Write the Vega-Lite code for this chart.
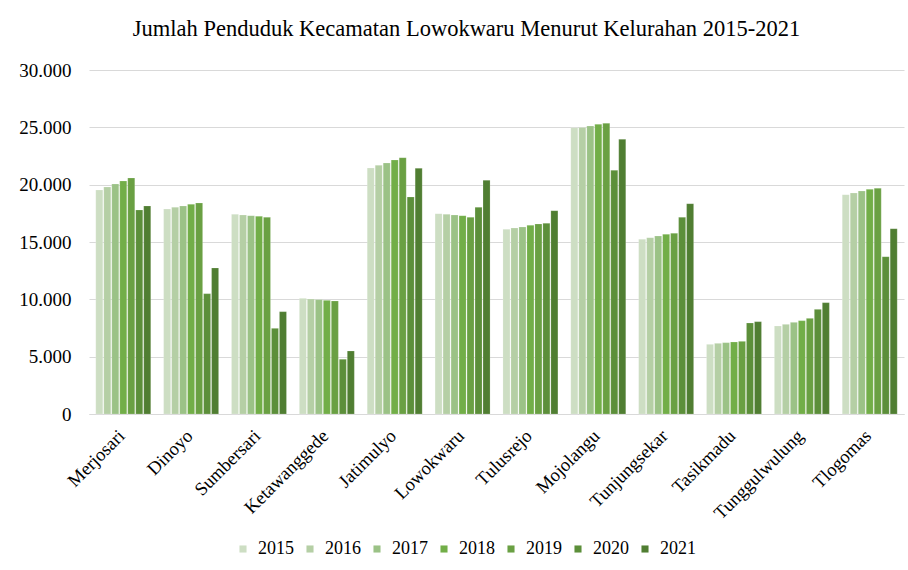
{
  "$schema": "https://vega.github.io/schema/vega-lite/v6.json",
  "width": 815,
  "height": 344,
  "autosize": {"type": "none"},
  "padding": {"left": 89, "top": 70, "right": 4, "bottom": 156},
  "background": "white",
  "title": {
    "text": "Jumlah Penduduk Kecamatan Lowokwaru Menurut Kelurahan 2015-2021",
    "font": "Liberation Serif",
    "fontSize": 22.5,
    "fontWeight": "normal",
    "color": "#000000",
    "anchor": "middle",
    "frame": "group",
    "dx": -30,
    "offset": 21
  },
  "config": {
    "font": "Liberation Serif",
    "locale": {"number": {"decimal": ",", "thousands": ".", "grouping": [3], "currency": ["Rp", ""]}},
    "view": {"stroke": null}
  },
  "data": {
    "values": [
      {"kelurahan": "Merjosari", "tahun": "2015", "jumlah": 19535},
      {"kelurahan": "Merjosari", "tahun": "2016", "jumlah": 19797},
      {"kelurahan": "Merjosari", "tahun": "2017", "jumlah": 20058},
      {"kelurahan": "Merjosari", "tahun": "2018", "jumlah": 20320},
      {"kelurahan": "Merjosari", "tahun": "2019", "jumlah": 20581},
      {"kelurahan": "Merjosari", "tahun": "2020", "jumlah": 17791},
      {"kelurahan": "Merjosari", "tahun": "2021", "jumlah": 18140},
      {"kelurahan": "Dinoyo", "tahun": "2015", "jumlah": 17878},
      {"kelurahan": "Dinoyo", "tahun": "2016", "jumlah": 18023},
      {"kelurahan": "Dinoyo", "tahun": "2017", "jumlah": 18140},
      {"kelurahan": "Dinoyo", "tahun": "2018", "jumlah": 18285},
      {"kelurahan": "Dinoyo", "tahun": "2019", "jumlah": 18401},
      {"kelurahan": "Dinoyo", "tahun": "2020", "jumlah": 10494},
      {"kelurahan": "Dinoyo", "tahun": "2021", "jumlah": 12733},
      {"kelurahan": "Sumbersari", "tahun": "2015", "jumlah": 17413},
      {"kelurahan": "Sumbersari", "tahun": "2016", "jumlah": 17355},
      {"kelurahan": "Sumbersari", "tahun": "2017", "jumlah": 17297},
      {"kelurahan": "Sumbersari", "tahun": "2018", "jumlah": 17239},
      {"kelurahan": "Sumbersari", "tahun": "2019", "jumlah": 17151},
      {"kelurahan": "Sumbersari", "tahun": "2020", "jumlah": 7471},
      {"kelurahan": "Sumbersari", "tahun": "2021", "jumlah": 8924},
      {"kelurahan": "Ketawanggede", "tahun": "2015", "jumlah": 10087},
      {"kelurahan": "Ketawanggede", "tahun": "2016", "jumlah": 10029},
      {"kelurahan": "Ketawanggede", "tahun": "2017", "jumlah": 9971},
      {"kelurahan": "Ketawanggede", "tahun": "2018", "jumlah": 9913},
      {"kelurahan": "Ketawanggede", "tahun": "2019", "jumlah": 9855},
      {"kelurahan": "Ketawanggede", "tahun": "2020", "jumlah": 4767},
      {"kelurahan": "Ketawanggede", "tahun": "2021", "jumlah": 5494},
      {"kelurahan": "Jatimulyo", "tahun": "2015", "jumlah": 21454},
      {"kelurahan": "Jatimulyo", "tahun": "2016", "jumlah": 21686},
      {"kelurahan": "Jatimulyo", "tahun": "2017", "jumlah": 21890},
      {"kelurahan": "Jatimulyo", "tahun": "2018", "jumlah": 22151},
      {"kelurahan": "Jatimulyo", "tahun": "2019", "jumlah": 22355},
      {"kelurahan": "Jatimulyo", "tahun": "2020", "jumlah": 18925},
      {"kelurahan": "Jatimulyo", "tahun": "2021", "jumlah": 21425},
      {"kelurahan": "Lowokwaru", "tahun": "2015", "jumlah": 17471},
      {"kelurahan": "Lowokwaru", "tahun": "2016", "jumlah": 17413},
      {"kelurahan": "Lowokwaru", "tahun": "2017", "jumlah": 17355},
      {"kelurahan": "Lowokwaru", "tahun": "2018", "jumlah": 17297},
      {"kelurahan": "Lowokwaru", "tahun": "2019", "jumlah": 17151},
      {"kelurahan": "Lowokwaru", "tahun": "2020", "jumlah": 18023},
      {"kelurahan": "Lowokwaru", "tahun": "2021", "jumlah": 20378},
      {"kelurahan": "Tulusrejo", "tahun": "2015", "jumlah": 16105},
      {"kelurahan": "Tulusrejo", "tahun": "2016", "jumlah": 16221},
      {"kelurahan": "Tulusrejo", "tahun": "2017", "jumlah": 16308},
      {"kelurahan": "Tulusrejo", "tahun": "2018", "jumlah": 16454},
      {"kelurahan": "Tulusrejo", "tahun": "2019", "jumlah": 16570},
      {"kelurahan": "Tulusrejo", "tahun": "2020", "jumlah": 16628},
      {"kelurahan": "Tulusrejo", "tahun": "2021", "jumlah": 17733},
      {"kelurahan": "Mojolangu", "tahun": "2015", "jumlah": 24971},
      {"kelurahan": "Mojolangu", "tahun": "2016", "jumlah": 24990},
      {"kelurahan": "Mojolangu", "tahun": "2017", "jumlah": 25116},
      {"kelurahan": "Mojolangu", "tahun": "2018", "jumlah": 25262},
      {"kelurahan": "Mojolangu", "tahun": "2019", "jumlah": 25349},
      {"kelurahan": "Mojolangu", "tahun": "2020", "jumlah": 21250},
      {"kelurahan": "Mojolangu", "tahun": "2021", "jumlah": 23954},
      {"kelurahan": "Tunjungsekar", "tahun": "2015", "jumlah": 15233},
      {"kelurahan": "Tunjungsekar", "tahun": "2016", "jumlah": 15378},
      {"kelurahan": "Tunjungsekar", "tahun": "2017", "jumlah": 15523},
      {"kelurahan": "Tunjungsekar", "tahun": "2018", "jumlah": 15669},
      {"kelurahan": "Tunjungsekar", "tahun": "2019", "jumlah": 15756},
      {"kelurahan": "Tunjungsekar", "tahun": "2020", "jumlah": 17151},
      {"kelurahan": "Tunjungsekar", "tahun": "2021", "jumlah": 18343},
      {"kelurahan": "Tasikmadu", "tahun": "2015", "jumlah": 6076},
      {"kelurahan": "Tasikmadu", "tahun": "2016", "jumlah": 6163},
      {"kelurahan": "Tasikmadu", "tahun": "2017", "jumlah": 6221},
      {"kelurahan": "Tasikmadu", "tahun": "2018", "jumlah": 6279},
      {"kelurahan": "Tasikmadu", "tahun": "2019", "jumlah": 6337},
      {"kelurahan": "Tasikmadu", "tahun": "2020", "jumlah": 7936},
      {"kelurahan": "Tasikmadu", "tahun": "2021", "jumlah": 8052},
      {"kelurahan": "Tunggulwulung", "tahun": "2015", "jumlah": 7674},
      {"kelurahan": "Tunggulwulung", "tahun": "2016", "jumlah": 7820},
      {"kelurahan": "Tunggulwulung", "tahun": "2017", "jumlah": 7994},
      {"kelurahan": "Tunggulwulung", "tahun": "2018", "jumlah": 8140},
      {"kelurahan": "Tunggulwulung", "tahun": "2019", "jumlah": 8343},
      {"kelurahan": "Tunggulwulung", "tahun": "2020", "jumlah": 9128},
      {"kelurahan": "Tunggulwulung", "tahun": "2021", "jumlah": 9709},
      {"kelurahan": "Tlogomas", "tahun": "2015", "jumlah": 19128},
      {"kelurahan": "Tlogomas", "tahun": "2016", "jumlah": 19274},
      {"kelurahan": "Tlogomas", "tahun": "2017", "jumlah": 19448},
      {"kelurahan": "Tlogomas", "tahun": "2018", "jumlah": 19593},
      {"kelurahan": "Tlogomas", "tahun": "2019", "jumlah": 19680},
      {"kelurahan": "Tlogomas", "tahun": "2020", "jumlah": 13721},
      {"kelurahan": "Tlogomas", "tahun": "2021", "jumlah": 16163}
    ]
  },
  "mark": {"type": "bar", "stroke": "white", "strokeOpacity": 0.35, "strokeWidth": 0.5},
  "encoding": {
    "x": {
      "field": "kelurahan",
      "type": "nominal",
      "sort": null,
      "title": null,
      "scale": {"paddingInner": 0.19, "paddingOuter": 0.1},
      "axis": {
        "labelAngle": -45,
        "labelAlign": "right",
        "labelBaseline": "top",
        "labelFont": "Liberation Serif",
        "labelFontSize": 18.5,
        "labelColor": "#000000",
        "labelPadding": 12,
        "labelOffset": -8,
        "labelLimit": 300,
        "ticks": false,
        "domainColor": "#d9d9d9",
        "domainWidth": 1
      }
    },
    "xOffset": {
      "field": "tahun",
      "type": "nominal",
      "scale": {"paddingInner": 0.12}
    },
    "y": {
      "field": "jumlah",
      "type": "quantitative",
      "title": null,
      "scale": {"domain": [0, 30000], "nice": false},
      "axis": {
        "values": [0, 5000, 10000, 15000, 20000, 25000, 30000],
        "format": ",.0f",
        "labelFont": "Liberation Serif",
        "labelFontSize": 19,
        "labelColor": "#000000",
        "labelPadding": 18,
        "ticks": false,
        "domain": false,
        "gridColor": "#d9d9d9",
        "gridWidth": 1
      }
    },
    "color": {
      "field": "tahun",
      "type": "nominal",
      "scale": {
        "domain": ["2015", "2016", "2017", "2018", "2019", "2020", "2021"],
        "range": ["#cddec3", "#b5cfa5", "#9bc286", "#72ae48", "#6aa043", "#5c8f3a", "#507e32"]
      },
      "legend": {
        "title": null,
        "orient": "none",
        "direction": "horizontal",
        "columns": 7,
        "legendX": 145,
        "legendY": 470,
        "symbolType": "square",
        "symbolSize": 50,
        "symbolStrokeWidth": 0,
        "labelFont": "Liberation Serif",
        "labelFontSize": 18,
        "labelColor": "#000000",
        "labelOffset": 6,
        "columnPadding": 7
      }
    }
  }
}
